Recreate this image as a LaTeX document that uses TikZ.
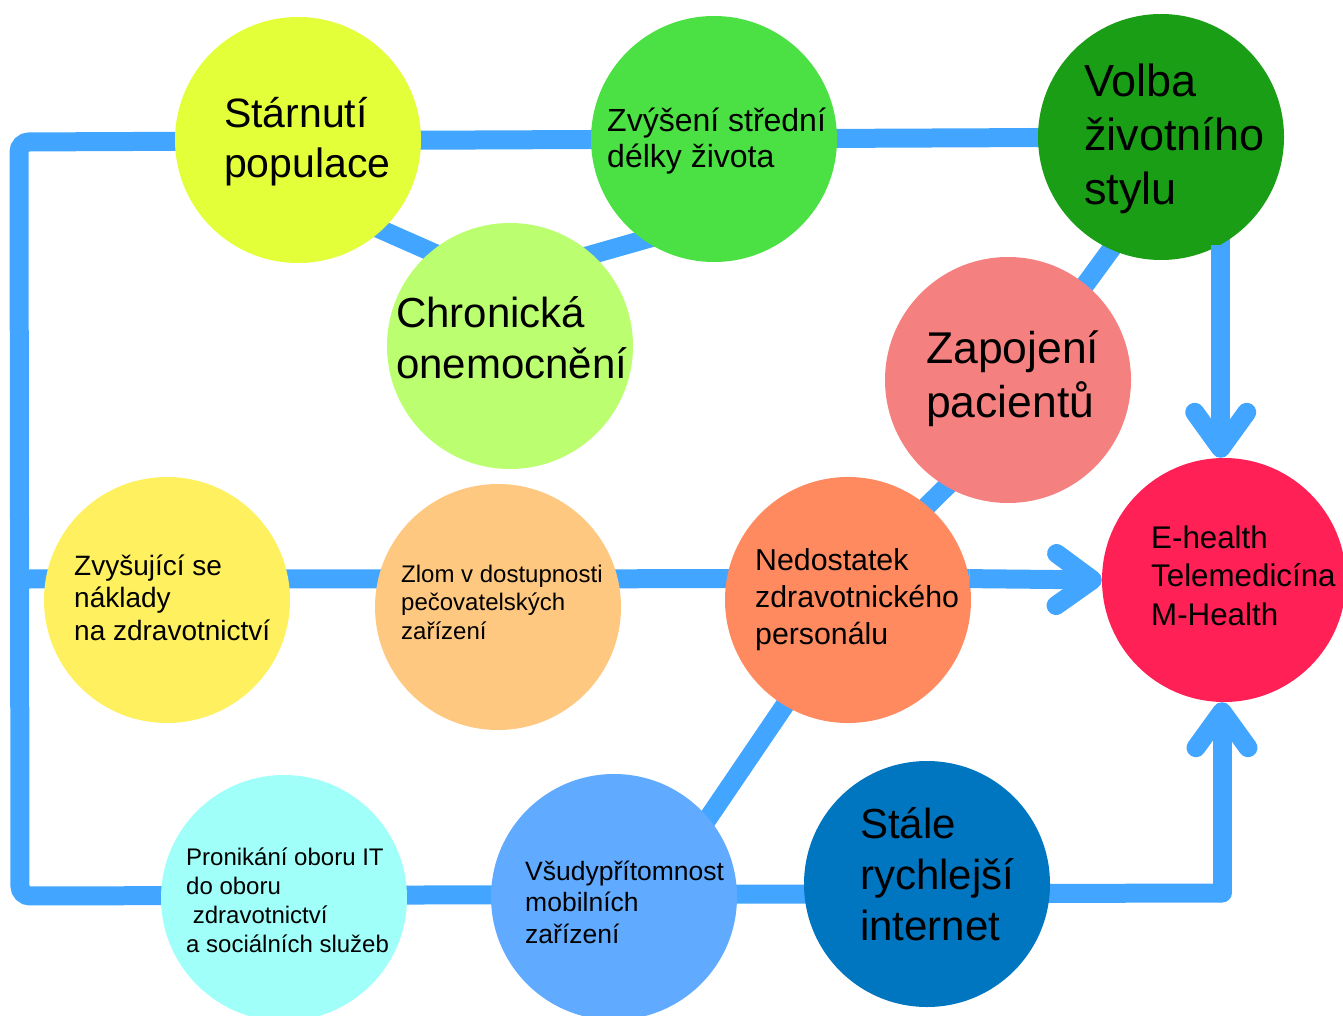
\documentclass[tikz,border=0pt]{standalone}
\usepackage{fontspec}
\setmainfont{Liberation Sans}
\usetikzlibrary{arrows.meta,backgrounds}
\definecolor{cLink}{HTML}{42A5FF}
\definecolor{cStar}{HTML}{E3FF3A}
\definecolor{cZvy}{HTML}{4BE043}
\definecolor{cVolba}{HTML}{1A9E16}
\definecolor{cChron}{HTML}{BBFF70}
\definecolor{cZap}{HTML}{F58080}
\definecolor{cNakl}{HTML}{FFF060}
\definecolor{cZlom}{HTML}{FFC880}
\definecolor{cNedo}{HTML}{FF8A60}
\definecolor{cEh}{HTML}{FF2056}
\definecolor{cPron}{HTML}{A0FFF9}
\definecolor{cVsud}{HTML}{60AAFF}
\definecolor{cStale}{HTML}{0075C0}
\newcommand\fsz[2]{\fontsize{#1pt}{#2pt}\selectfont}
\begin{document}
\begin{tikzpicture}[x=1pt,y=-1pt,
  circ/.style={circle, draw=none, inner sep=0pt, minimum size=246pt},
  link/.style={draw=cLink, line width=19pt},
  arr/.style={draw=cLink, line width=19pt, -{Straight Barb[length=36pt,width=52pt,round]}},
  tx/.style={anchor=base west, inner sep=0pt, text=black}]
\useasboundingbox (0,0) rectangle (1343,1016);

% circles
\node[circ,fill=cStar] (starnuti) at (298,140) {};
\node[circ,fill=cZvy] (zvyseni) at (714,139) {};
\node[circ,fill=cVolba] (volba) at (1161,137) {};
\node[circ,fill=cChron] (chronicka) at (510,346) {};
\node[circ,fill=cZap] (zapojeni) at (1008,380) {};
\node[circ,fill=cNakl] (naklady) at (167,600) {};
\node[circ,fill=cZlom] (zlom) at (498,607) {};
\node[circ,fill=cNedo] (nedostatek) at (848,600) {};
\node[circ,fill=cEh,minimum size=244pt] (ehealth) at (1224,580) {};
\node[circ,fill=cPron] (pronikani) at (284,898) {};
\node[circ,fill=cVsud] (vsudy) at (614,897) {};
\node[circ,fill=cStale] (stale) at (927,884) {};

% frame corners
\coordinate (tl) at (19,142);
\coordinate (bl) at (20,896);
\coordinate (br) at (1222,893);
\coordinate (ml) at (19,579);

\begin{pgfonlayer}{background}
\draw[link, rounded corners=10pt] (volba.center) -- (tl) -- (bl) -- (br);
\draw[link] (ml) -- (nedostatek.10);
\draw[link] (volba.-61 |- volba.center) -- (volba.-61);
\draw[link, shorten <=-12pt, shorten >=-12pt] (starnuti.-47) -- (chronicka.130);
\draw[link, shorten <=-12pt, shorten >=-12pt] (zvyseni.235) -- (chronicka.48);
\draw[link, shorten <=-12pt, shorten >=-12pt] (volba.246) -- (zapojeni.51);
\draw[link, shorten <=-12pt, shorten >=-12pt] (zapojeni.240) -- (nedostatek.50);
\draw[link, shorten <=-12pt, shorten >=-12pt] (nedostatek.239) -- (vsudy.40);
\end{pgfonlayer}

% arrows into E-health
\draw[arr] (volba.-61) -- (volba.-61 |- ehealth.north);
\draw[arr] (nedostatek.10) -- (ehealth.west);
\draw[arr, line cap=round] (br) -- (br |- ehealth.south);

% texts
\node[tx] (t-starnuti) at (224,128) {\fsz{41}{50}\begin{tabular}[t]{@{}l@{}}Stárnutí\\populace\end{tabular}};
\node[tx] (t-zvyseni) at (607,132) {\fsz{32}{36}\begin{tabular}[t]{@{}l@{}}Zvýšení střední\\délky života\end{tabular}};
\node[tx] (t-volba) at (1084,97) {\fsz{45}{54}\begin{tabular}[t]{@{}l@{}}Volba\\životního\\stylu\end{tabular}};
\node[tx] (t-chronicka) at (396,327) {\fsz{42}{51}\begin{tabular}[t]{@{}l@{}}Chronická\\onemocnění\end{tabular}};
\node[tx] (t-zapojeni) at (926,363) {\fsz{44.5}{54}\begin{tabular}[t]{@{}l@{}}Zapojení\\pacientů\end{tabular}};
\node[tx] (t-naklady) at (74,575) {\fsz{28}{32.5}\begin{tabular}[t]{@{}l@{}}Zvyšující se\\náklady\\na zdravotnictví\end{tabular}};
\node[tx] (t-zlom) at (401,582) {\fsz{24}{28.5}\begin{tabular}[t]{@{}l@{}}Zlom v dostupnosti\\pečovatelských\\zařízení\end{tabular}};
\node[tx] (t-nedostatek) at (755,570) {\fsz{30.3}{37}\begin{tabular}[t]{@{}l@{}}Nedostatek\\zdravotnického\\personálu\end{tabular}};
\node[tx] (t-ehealth) at (1151,548) {\fsz{31.3}{38.5}\begin{tabular}[t]{@{}l@{}}E-health\\Telemedicína\\M-Health\end{tabular}};
\node[tx] (t-pronikani) at (186,865) {\fsz{24}{29}\begin{tabular}[t]{@{}l@{}}Pronikání oboru IT\\do oboru\\\ zdravotnictví\\a sociálních služeb\end{tabular}};
\node[tx] (t-vsudy) at (525,880) {\fsz{26.5}{31.5}\begin{tabular}[t]{@{}l@{}}Všudypřítomnost\\mobilních\\zařízení\end{tabular}};
\node[tx] (t-stale) at (860,838) {\fsz{42}{51}\begin{tabular}[t]{@{}l@{}}Stále\\rychlejší\\internet\end{tabular}};
\end{tikzpicture}
\end{document}
